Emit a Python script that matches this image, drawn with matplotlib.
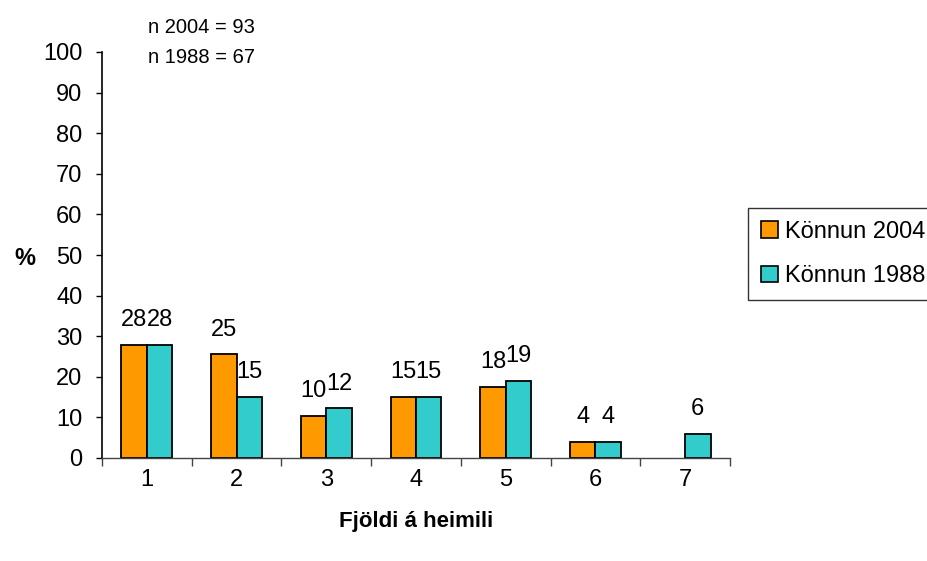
import matplotlib
matplotlib.use("Agg")
import matplotlib.pyplot as plt
import numpy as np
from matplotlib.patches import Patch

categories = ["1", "2", "3", "4", "5", "6", "7"]
vals_2004 = [27.8, 25.5, 10.3, 15.1, 17.6, 4.0, 0.0]
vals_1988 = [27.8, 15.1, 12.2, 15.1, 19.0, 4.0, 5.9]
labels_2004 = ["28", "25", "10", "15", "18", "4", ""]
labels_1988 = ["28", "15", "12", "15", "19", "4", "6"]
series_names = ["Könnun 2004", "Könnun 1988"]
yticks = list(range(0, 101, 10))

plt.rcParams['font.family'] = ['Liberation Sans', 'DejaVu Sans']

fig = plt.figure(figsize=(9.28, 5.61), dpi=100)
ax = fig.add_axes([102/928, 1-458/561, 628/928, 406/561])

orange = "#FF9900"
cyan = "#33CCCC"
x = np.arange(1, len(categories) + 1)
w = 0.283

def draw_series(offset, vals, labels, color):
    xs = [xi + offset for xi, v in zip(x, vals) if v > 0]
    vs = [v for v in vals if v > 0]
    ax.bar(xs, vs, w, color=color, edgecolor="black", linewidth=1.3)
    for xi, v, lab in zip(x + offset, vals, labels):
        if lab:
            ax.annotate(lab, (xi, v), xytext=(0, 13.5), textcoords="offset points",
                        ha="center", va="baseline", fontsize=17)

draw_series(-w/2, vals_2004, labels_2004, orange)
draw_series(w/2, vals_1988, labels_1988, cyan)

ax.set_xlim(0.5, 7.5)
ax.set_ylim(0, 100)
ax.set_yticks(yticks)
ax.set_yticklabels([str(t) for t in yticks], fontsize=17)
ax.tick_params(axis="y", length=4, width=1, pad=10, direction="out")

# x ticks at group boundaries, labels at centres
ax.set_xticks(np.arange(0.5, 8.5, 1.0))
ax.set_xticklabels([])
ax.set_xticks(x, minor=True)
ax.set_xticklabels(categories, minor=True, fontsize=17)
ax.tick_params(axis="x", which="major", length=6, width=1, color="#444444")
ax.tick_params(axis="x", which="minor", length=0, pad=8)

for s in ["top", "right"]:
    ax.spines[s].set_visible(False)
ax.spines["left"].set_linewidth(1.2)
ax.spines["bottom"].set_linewidth(1.0)
ax.spines["bottom"].set_color("#444444")

ax.set_xlabel("Fjöldi á heimili", fontsize=16, fontweight="bold", labelpad=14)
fig.text(25/928, 1-258/561, "%", fontsize=17, fontweight="bold", ha="center", va="center")

fig.text(148/928, 1-33/561, "n 2004 = 93", fontsize=14.5, ha="left", va="baseline")
fig.text(148/928, 1-63/561, "n 1988 = 67", fontsize=14.5, ha="left", va="baseline")

handles = [Patch(facecolor=orange, edgecolor="black", linewidth=1.2),
           Patch(facecolor=cyan, edgecolor="black", linewidth=1.2)]
leg = fig.legend(handles, series_names, loc="upper left",
                 bbox_to_anchor=(748/928, 1-208/561), fontsize=17,
                 frameon=True, fancybox=False, handlelength=0.7, handleheight=0.7,
                 handletextpad=0.3, borderpad=0.55, labelspacing=0.95, borderaxespad=0)
leg.get_frame().set_edgecolor("black")
leg.get_frame().set_linewidth(1.0)

fig.savefig("out.png", dpi=100)
